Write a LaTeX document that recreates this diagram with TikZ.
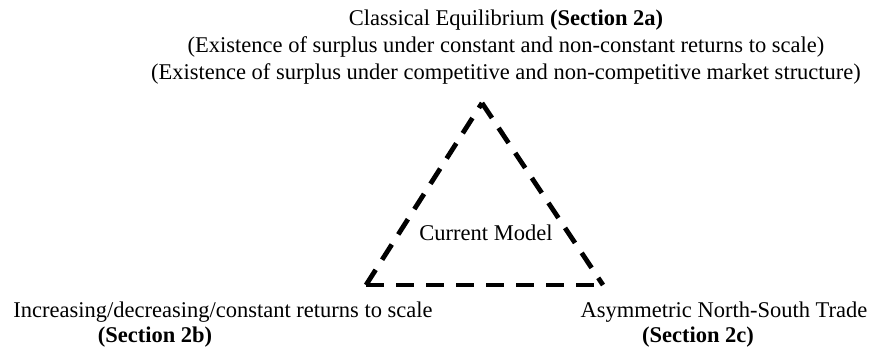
\documentclass[tikz,border=0pt]{standalone}
\usepackage{fontspec}
\setmainfont{Liberation Serif}
\usetikzlibrary{positioning}

\begin{document}
\begin{tikzpicture}[x=1pt, y=-1pt, every node/.style={font=\fontsize{22.5}{27}\selectfont, inner sep=0pt},
    edge/.style={line width=4.8pt, dash pattern=on 18pt off 12pt}]
      \useasboundingbox (0,0) rectangle (883,348);
      % triangle corners
      \coordinate (top) at (482,103);
      \coordinate (left) at (366,285);
      \coordinate (right) at (603,285);

      \node [align=center] (classic) at (506,47) {Classical Equilibrium \textbf{(Section 2a)}\\
        (Existence of surplus under constant and non-constant returns to scale)\\
        (Existence of surplus under competitive and non-competitive market structure)};
      \node (model) at (486,233) {Current Model};

      \node (returns) at (223,312) {Increasing/decreasing/constant returns to scale};
      \node [font=\fontsize{22.5}{27}\selectfont\bfseries] (sec2b) at (155,337) {(Section 2b)};
      \node (trade) at (724,312) {Asymmetric North-South Trade};
      \node [font=\fontsize{22.5}{27}\selectfont\bfseries] (sec2c) at (698,337) {(Section 2c)};

      \draw [edge] (left) -- (top);
      \draw [edge] (top) -- (right);
      \draw [edge] (left) -- (right);
    \end{tikzpicture}
\end{document}
